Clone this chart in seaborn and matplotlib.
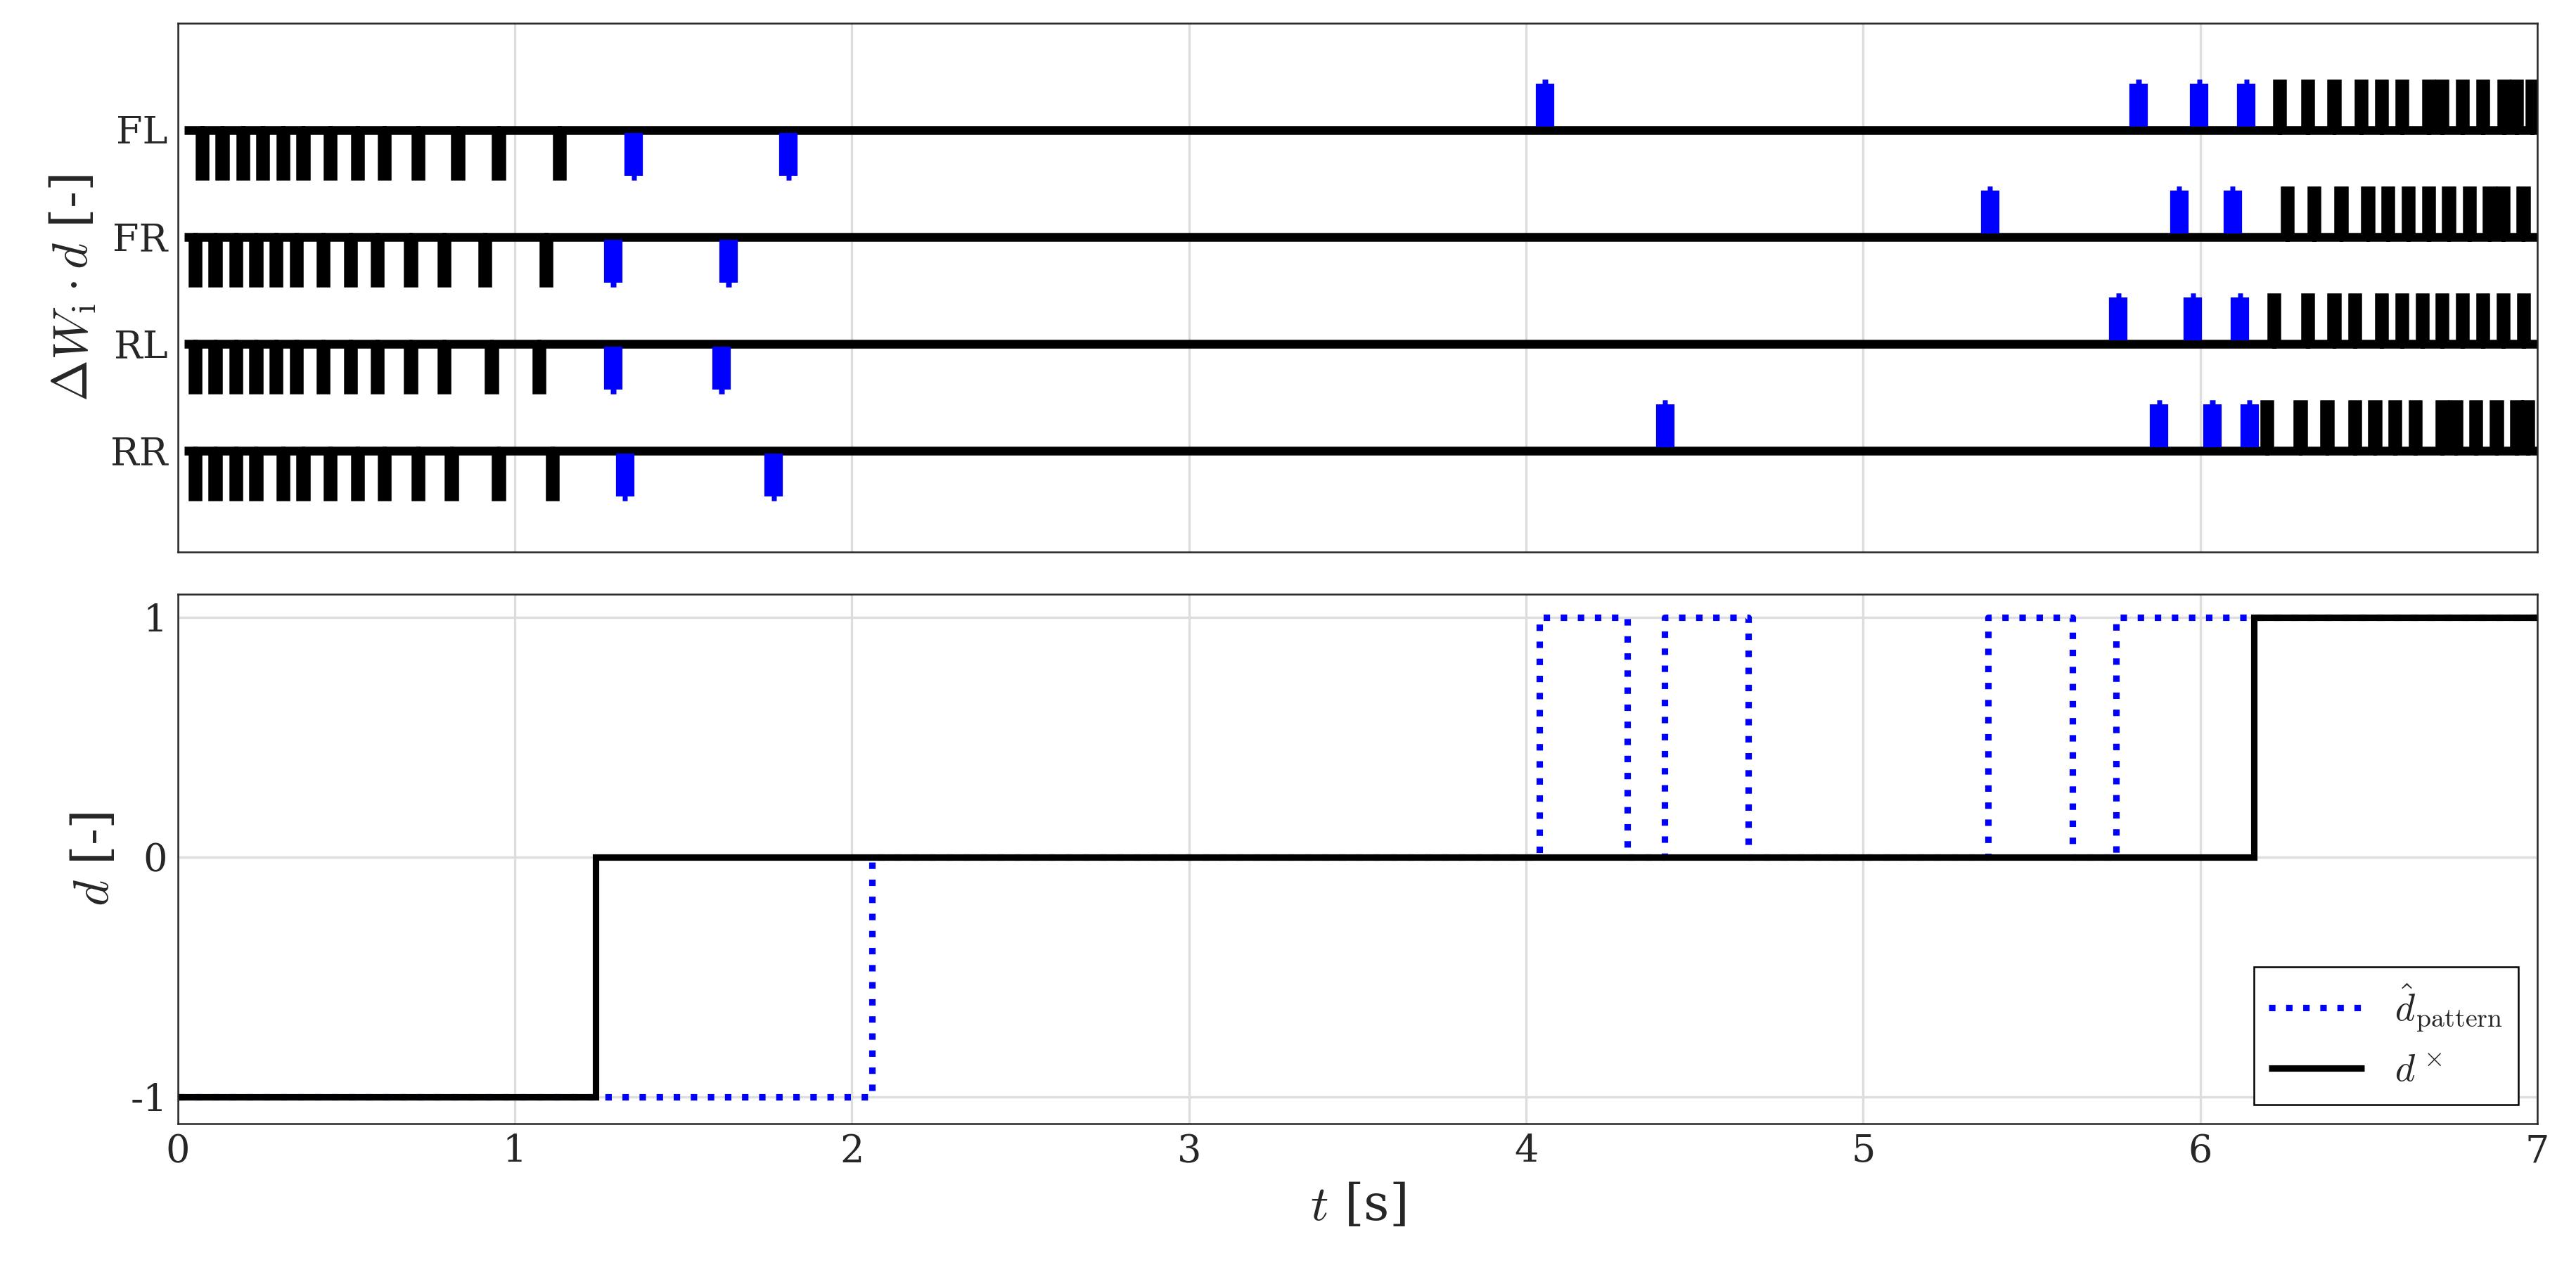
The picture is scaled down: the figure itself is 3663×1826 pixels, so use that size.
import numpy as np
import pandas as pd
import matplotlib
matplotlib.use("Agg")
import matplotlib.pyplot as plt
import seaborn as sns

sns.set_style("white")
plt.rcParams['font.family'] = ['DejaVu Serif']
plt.rcParams['mathtext.fontset'] = 'cm'
plt.rcParams['lines.solid_joinstyle'] = 'miter'
plt.rcParams['lines.solid_capstyle'] = 'butt'

wheels = ['FL', 'FR', 'RL', 'RR']
rows = [3, 2, 1, 0]

# pulse times [s]; negative pulses early, positive pulses late
black_down = {
    'FL': [0.072, 0.132, 0.194, 0.252, 0.312, 0.372, 0.452, 0.533, 0.613, 0.713, 0.831, 0.952, 1.132],
    'FR': [0.051, 0.111, 0.172, 0.232, 0.292, 0.352, 0.432, 0.513, 0.592, 0.691, 0.791, 0.912, 1.092],
    'RL': [0.051, 0.111, 0.172, 0.232, 0.292, 0.352, 0.432, 0.513, 0.592, 0.691, 0.791, 0.931, 1.072],
    'RR': [0.051, 0.111, 0.172, 0.232, 0.312, 0.372, 0.452, 0.533, 0.613, 0.713, 0.812, 0.952, 1.112],
}
blue_down = {
    'FL': [1.353, 1.812],
    'FR': [1.292, 1.634],
    'RL': [1.292, 1.613],
    'RR': [1.327, 1.768],
}
blue_up = {
    'FL': [4.056, 5.817, 5.997, 6.137],
    'FR': [5.376, 5.937, 6.096],
    'RL': [5.757, 5.978, 6.118],
    'RR': [4.412, 5.878, 6.036, 6.146],
}
black_up = {
    'FL': [6.236, 6.318, 6.397, 6.477, 6.537, 6.598, 6.678, 6.717, 6.777, 6.838, 6.900, 6.938, 6.984],
    'FR': [6.258, 6.337, 6.418, 6.497, 6.557, 6.617, 6.677, 6.737, 6.799, 6.858, 6.898, 6.958],
    'RL': [6.219, 6.318, 6.397, 6.458, 6.537, 6.598, 6.658, 6.717, 6.777, 6.838, 6.898, 6.960],
    'RR': [6.197, 6.297, 6.376, 6.458, 6.518, 6.578, 6.638, 6.717, 6.758, 6.818, 6.879, 6.939, 6.971],
}

# bottom panel: step signals (time, value) held until the next time
d_cross_t = [0.0, 1.24, 6.16, 7.0]
d_cross_v = [-1, 0, 1, 1]
d_pat_t = [0.0, 2.06, 4.04, 4.30, 4.41, 4.66, 5.37, 5.62, 5.75, 6.16, 7.0]
d_pat_v = [-1, 0, 1, 0, 1, 0, 1, 0, 1, 1, 1]

W = 0.015   # pulse width
H = 0.43    # pulse height


def pulse_path(times, base, sign):
    xs, ys = [], []
    for t in times:
        xs += [t - W / 2, t - W / 2, t + W / 2, t + W / 2]
        ys += [base, base + sign * H, base + sign * H, base]
    return xs, ys


def step_df(t, v):
    xs, ys = [], []
    for i in range(len(t) - 1):
        xs += [t[i], t[i + 1]]
        ys += [v[i], v[i]]
    return pd.DataFrame({'t': xs, 'v': ys})


fig = plt.figure(figsize=(3663 / 300, 1826 / 300), dpi=300)
ax1 = fig.add_axes([0.069, 0.570, 0.916, 0.412])
ax2 = fig.add_axes([0.069, 0.125, 0.916, 0.412])

lw = 3.0
for w, r in zip(wheels, rows):
    xd, yd = pulse_path(black_down[w], r, -1)
    xu, yu = pulse_path(black_up[w], r, 1)
    xs = [0.02] + xd + xu + [7.0]
    ys = [r] + yd + yu + [r]
    sns.lineplot(x=xs, y=ys, sort=False, estimator=None, color='black', lw=lw, ax=ax1)
    for times, sgn in [(blue_down[w], -1), (blue_up[w], 1)]:
        for t in times:
            bx, by = pulse_path([t], r, sgn)
            sns.lineplot(x=bx[1:3], y=by[1:3], sort=False, estimator=None, color='#0000ff', lw=lw, ax=ax1)
            sns.lineplot(x=[t, t], y=[r + sgn * 0.03, r + sgn * H], sort=False, estimator=None,
                         color='#0000ff', lw=lw * 2.1, ax=ax1)

ax1.set_xlim(0, 7)
ax1.set_ylim(-0.95, 4.0)
ax1.set_yticks(rows)
ax1.set_yticklabels(wheels, fontsize=13)
ax1.set_xticks(range(8))
ax1.set_xticklabels([])
ax1.set_ylabel(r'$\Delta W_\mathrm{i} \cdot d$ [-]', fontsize=17)
ax1.grid(True, axis='x', color='#dddddd', lw=0.8)

pat = step_df(d_pat_t, d_pat_v)
cross = step_df(d_cross_t, d_cross_v)
sns.lineplot(data=pat, x='t', y='v', sort=False, estimator=None, color='#0000ff',
             lw=2.2, ls=':', ax=ax2, label=r'$\hat{d}_\mathrm{pattern}$')
sns.lineplot(data=cross, x='t', y='v', sort=False, estimator=None, color='black',
             lw=2.2, ax=ax2, label=r'$d^\times$')
ax2.set_xlim(0, 7)
ax2.set_ylim(-1.11, 1.096)
ax2.set_yticks([-1, 0, 1])
ax2.set_yticklabels(['-1', '0', '1'], fontsize=13)
ax2.set_xticks(range(8))
ax2.set_xticklabels([str(i) for i in range(8)], fontsize=13)
ax2.set_xlabel(r'$t$ [s]', fontsize=17)
ax2.set_ylabel(r'$d$ [-]', fontsize=17)
ax2.grid(True, color='#dddddd', lw=0.8)
leg = ax2.legend(loc='lower right', fontsize=13, fancybox=False, framealpha=1,
                 edgecolor='black', handlelength=2.5)
leg.get_frame().set_linewidth(0.6)

for ax in (ax1, ax2):
    ax.tick_params(direction='in', length=4, width=0.6, top=False, right=False)
    for s in ax.spines.values():
        s.set_linewidth(0.6)
        s.set_color('#262626')

fig.savefig('out.png', dpi=300)
